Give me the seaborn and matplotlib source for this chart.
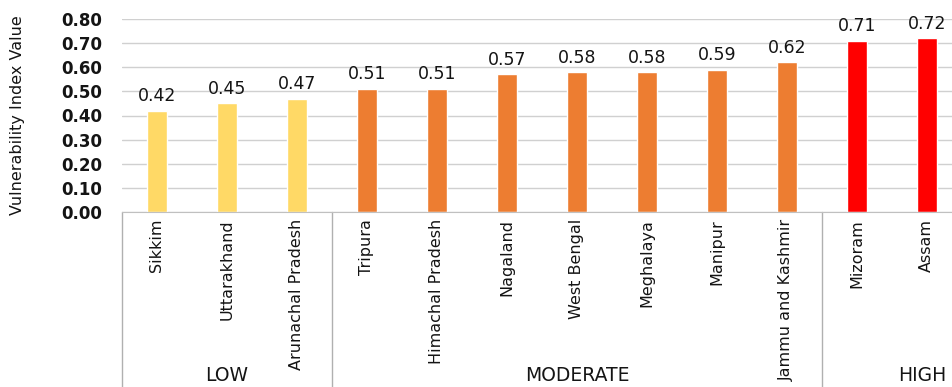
import matplotlib
matplotlib.use("Agg")
import matplotlib.pyplot as plt
import seaborn as sns

estados = ["Sikkim", "Uttarakhand", "Arunachal Pradesh", "Tripura", "Himachal Pradesh",
           "Nagaland", "West Bengal", "Meghalaya", "Manipur", "Jammu and Kashmir",
           "Mizoram", "Assam"]
valores = [0.42, 0.45, 0.47, 0.51, 0.51, 0.57, 0.58, 0.58, 0.59, 0.62, 0.71, 0.72]
niveles = ["LOW", "LOW", "LOW", "MODERATE", "MODERATE", "MODERATE", "MODERATE",
           "MODERATE", "MODERATE", "MODERATE", "HIGH", "HIGH"]
colores_nivel = {"LOW": "#FFD966", "MODERATE": "#ED7D31", "HIGH": "#FF0000"}
yticks = [0.0, 0.1, 0.2, 0.3, 0.4, 0.5, 0.6, 0.7, 0.8]

sns.set_style("white")
plt.rcParams["font.family"] = ["DejaVu Sans"]
narrow = ["Liberation Sans Narrow", "DejaVu Sans"]
oscuro = "#141414"

fig = plt.figure(figsize=(9.52, 3.87), dpi=100)
ax = fig.add_axes([122 / 952, 175 / 387, 1 - 122 / 952, 193 / 387])

paleta = {e: colores_nivel[n] for e, n in zip(estados, niveles)}
sns.barplot(x=estados, y=valores, hue=estados, palette=paleta, legend=False,
            width=0.29, ax=ax, saturation=1)

ax.set_ylim(0, 0.8)
ax.set_xlim(-0.5, 11.36)
ax.set_yticks(yticks)
ax.set_yticklabels([f"{t:.2f}" for t in yticks], fontsize=12, fontweight="bold",
                   color=oscuro)
ax.yaxis.grid(True, color="#d0d0d0", linewidth=1)
ax.set_axisbelow(True)
ax.tick_params(axis="y", length=0, pad=14)
ax.tick_params(axis="x", length=0, pad=5)
ax.set_xticks(range(len(estados)))
ax.set_xticklabels(estados, rotation=90, va="top", ha="center",
                   fontsize=11.5, family=narrow, color=oscuro)
ax.set_ylabel("Vulnerability Index Value", family=narrow, fontsize=11.5,
              color=oscuro)
ax.yaxis.set_label_coords(-(122 - 25) / 830, 0.5)
ax.set_xlabel("")

for s in ["top", "right", "left"]:
    ax.spines[s].set_visible(False)
ax.spines["bottom"].set_color("#c0c0c0")

for cont in ax.containers:
    ax.bar_label(cont, fmt="%.2f", padding=4, fontsize=12.5, color=oscuro)

# separadores de grupo
tr = ax.get_xaxis_transform()
for xs in [-0.5, 2.5, 9.5]:
    ax.plot([xs, xs], [0, -0.91], transform=tr, color="#b0b0b0",
            linewidth=1, clip_on=False)

grupos = {"LOW": 1.0, "MODERATE": 6.0, "HIGH": 10.93}
for g, xc in grupos.items():
    ax.text(xc, -0.845, g, transform=tr, ha="center", va="center",
            fontsize=13.5, color=oscuro)

fig.savefig("out.png", dpi=100)
